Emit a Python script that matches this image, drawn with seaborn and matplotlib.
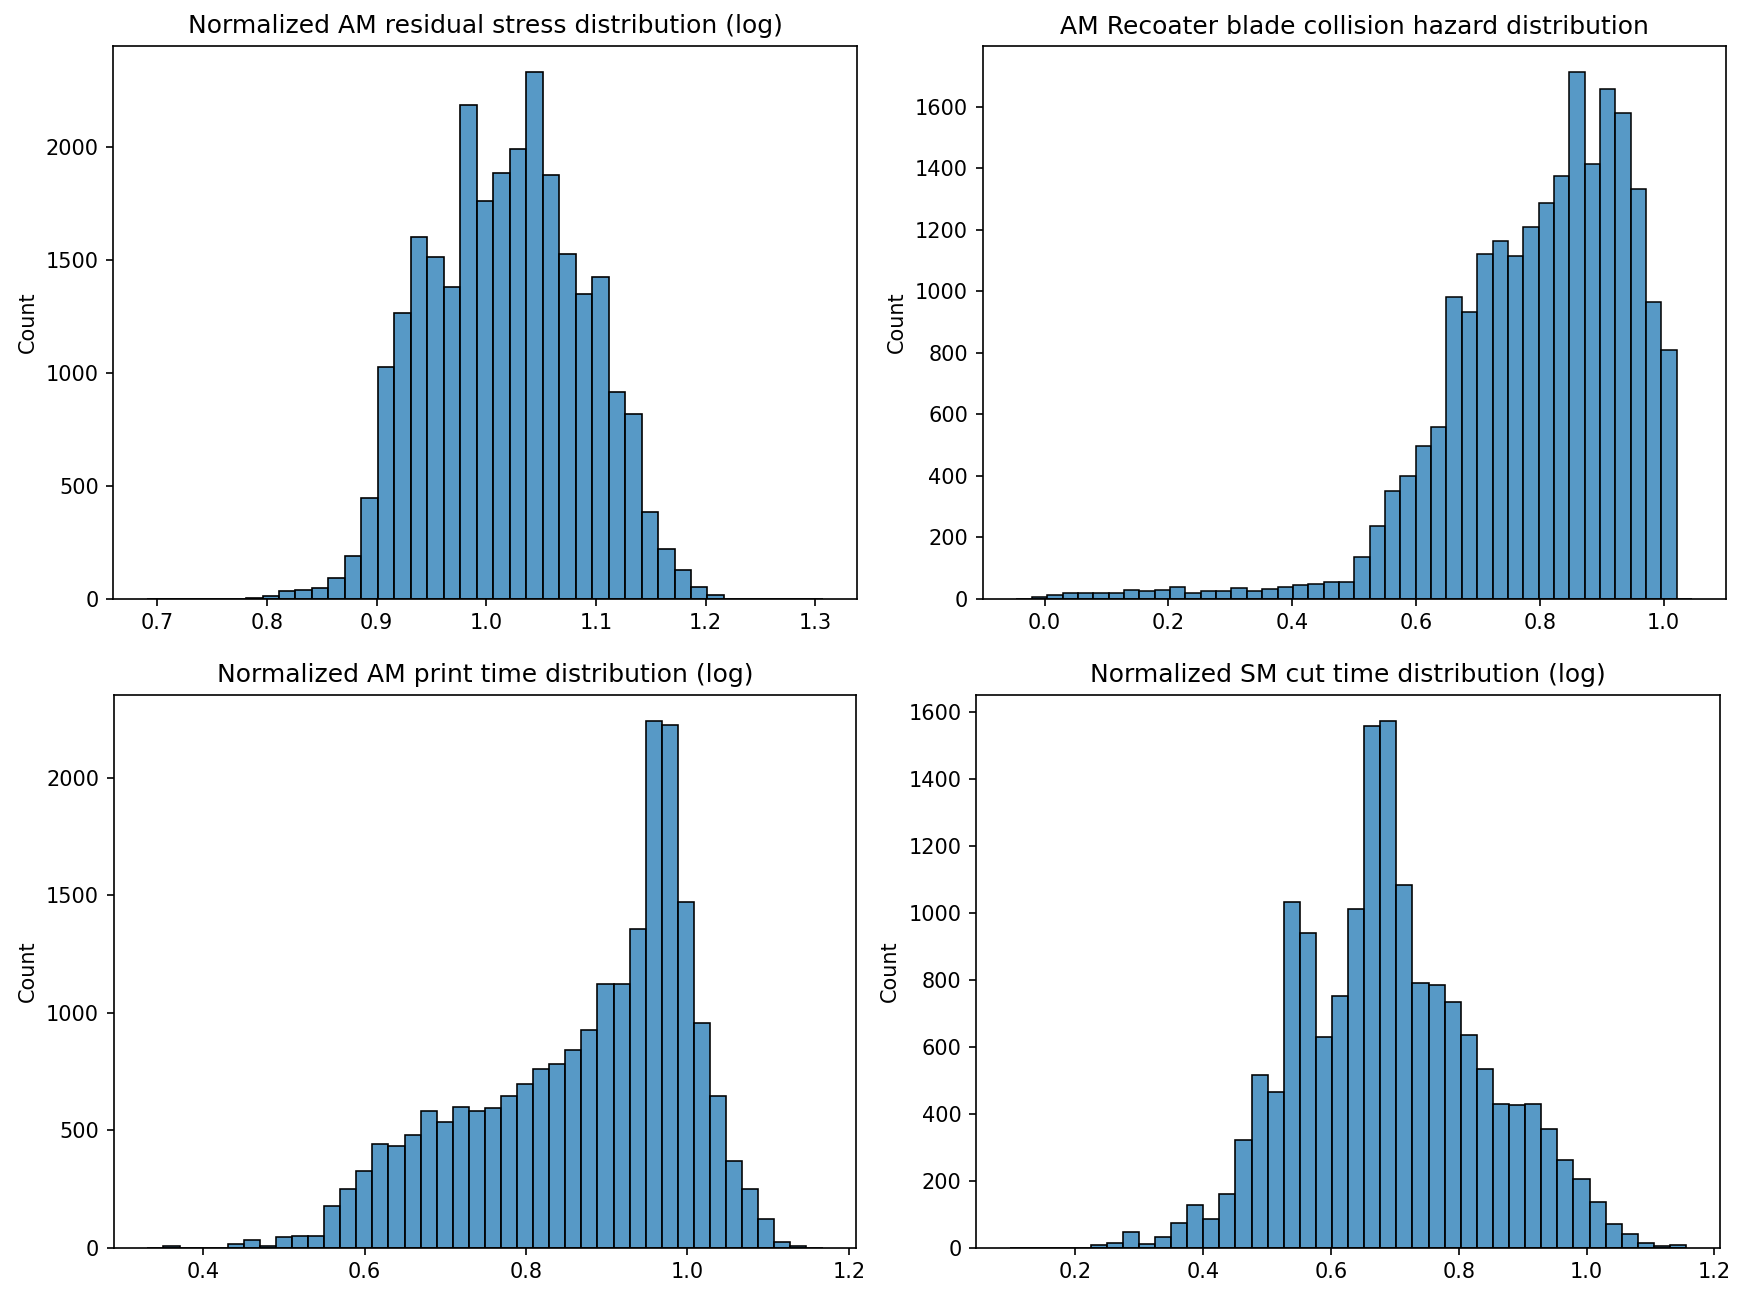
import numpy as np
import pandas as pd
import matplotlib
matplotlib.use("Agg")
import matplotlib.pyplot as plt
import seaborn as sns

# ---- data ----
titles = [
    "Normalized AM residual stress distribution (log)",
    "AM Recoater blade collision hazard distribution",
    "Normalized AM print time distribution (log)",
    "Normalized SM cut time distribution (log)",
]

stress_range = (0.6907, 1.3069)
stress_counts = [0, 0, 0, 0, 0, 0, 4, 13, 32, 40, 46, 93, 187, 445, 1028, 1267,
                 1603, 1512, 1379, 2186, 1763, 1888, 1994, 2332, 1876, 1525, 1352,
                 1425, 917, 817, 386, 221, 127, 53, 15, 0, 0, 0, 0, 0, 0]

hazard_range = (-0.0454, 1.0462)
hazard_counts = [0, 4, 11, 20, 20, 20, 20, 29, 25, 29, 39, 18, 24, 24, 34, 24, 33,
                 38, 45, 49, 53, 53, 137, 238, 351, 400, 498, 557, 980, 932, 1122,
                 1162, 1113, 1210, 1288, 1376, 1712, 1414, 1659, 1580, 1332, 965,
                 810, 0]

print_range = (0.3307, 1.1675)
print_counts = [0, 7, 0, 0, 0, 17, 33, 6, 45, 50, 50, 177, 248, 325, 441, 432, 480,
                582, 536, 600, 581, 594, 644, 698, 760, 780, 842, 925, 1122, 1122,
                1357, 2241, 2222, 1472, 957, 645, 369, 248, 122, 24, 7, 0]

cut_range = (0.0978, 1.1559)
cut_counts = [0, 0, 0, 0, 0, 7, 12, 47, 11, 30, 74, 127, 85, 159, 320, 516, 464,
              1033, 940, 628, 753, 1012, 1560, 1574, 1083, 792, 784, 735, 635, 534,
              430, 426, 430, 354, 262, 204, 137, 70, 39, 12, 4, 8]

panels = [
    (stress_range, stress_counts),
    (hazard_range, hazard_counts),
    (print_range, print_counts),
    (cut_range, cut_counts),
]

# ---- layout (pixel geometry of the reference) ----
W, H = 1745, 1297
DPI = 150
boxes_px = [  # left, top, right, bottom
    (113.4, 46.0, 856.6, 598.7),
    (982.7, 46.0, 1726.0, 598.7),
    (113.6, 694.7, 856.3, 1247.6),
    (976.2, 694.7, 1720.0, 1247.5),
]

fig = plt.figure(figsize=(W / DPI, H / DPI), dpi=DPI)
for (rng, counts), title, (l, t, r, b) in zip(panels, titles, boxes_px):
    ax = fig.add_axes([l / W, 1 - b / H, (r - l) / W, (b - t) / H])
    n = len(counts)
    edges = np.linspace(rng[0], rng[1], n + 1)
    df = pd.DataFrame({
        "value": 0.5 * (edges[:-1] + edges[1:]),
        "count": np.asarray(counts, dtype=float),
    })
    sns.histplot(data=df, x="value", weights="count", bins=n,
                 binrange=rng, ax=ax)
    ax.set_title(title, fontsize=12)
    ax.set_xlabel("")
    ax.set_ylabel("Count")

fig.savefig("out.png", dpi=DPI)
